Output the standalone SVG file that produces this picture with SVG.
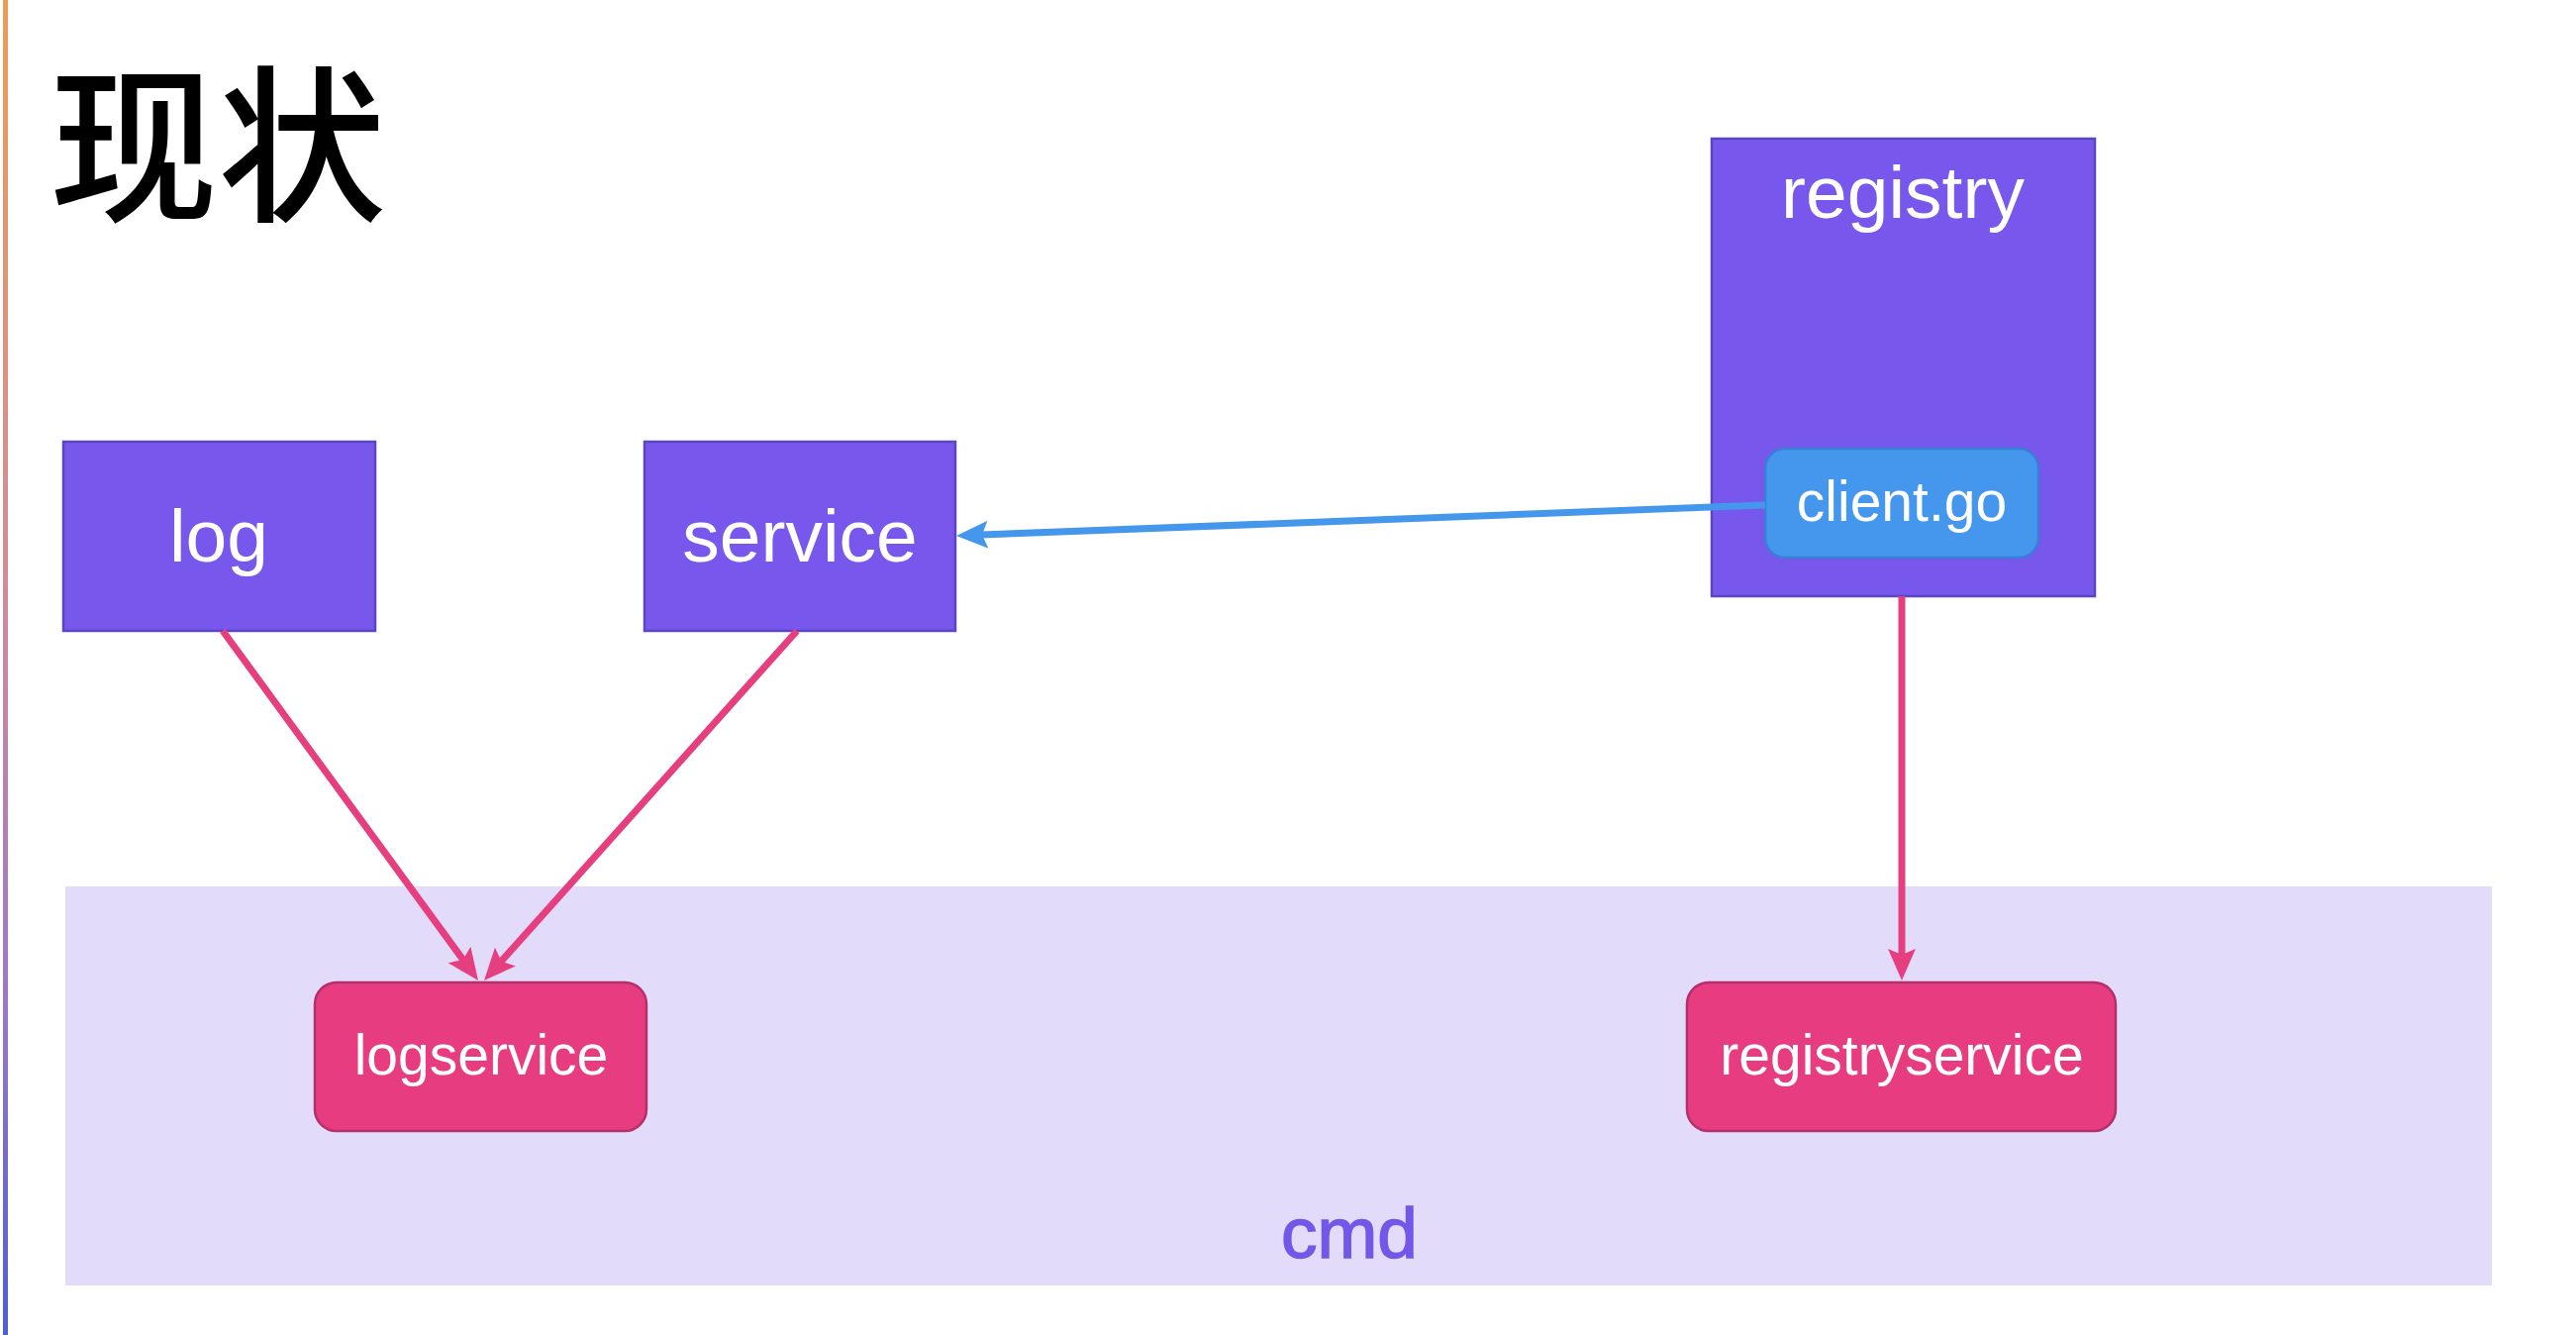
<svg xmlns="http://www.w3.org/2000/svg" width="2602" height="1348" viewBox="0 0 2602 1348">
  <style>
    .lbl { font-family: "Liberation Sans", Arial, sans-serif; fill: #ffffff; text-anchor: middle; }
    .box { fill: #7857ED; stroke: #5B45C2; stroke-width: 2.5; }
    .pink { fill: #E83C80; stroke: #B5306A; stroke-width: 2.5; }
    .blue { fill: #4597EE; stroke: #3A7FD6; stroke-width: 2.5; }
    .edge-p { stroke: #E53F7F; stroke-width: 7; fill: none; marker-end: url(#ah-p); }
    .edge-b { stroke: #4597EC; stroke-width: 7; fill: none; marker-end: url(#ah-b); }
  </style>
  <defs>
    <linearGradient id="bar" x1="0" y1="0" x2="0" y2="1">
      <stop offset="0" stop-color="#EB9D55"/>
      <stop offset="0.45" stop-color="#D28A9A"/>
      <stop offset="0.75" stop-color="#9A78C8"/>
      <stop offset="1" stop-color="#4C5ED8"/>
    </linearGradient>
    <marker id="ah-p" markerUnits="userSpaceOnUse" markerWidth="32" markerHeight="28" refX="22" refY="14" orient="auto">
      <path d="M0,0 L32,14 L0,28 L6,14 z" fill="#E53F7F"/>
    </marker>
    <marker id="ah-b" markerUnits="userSpaceOnUse" markerWidth="32" markerHeight="28" refX="22" refY="14" orient="auto">
      <path d="M0,0 L32,14 L0,28 L6,14 z" fill="#4597EC"/>
    </marker>
  </defs>

  <rect x="0" y="0" width="2602" height="1348" fill="#ffffff"/>
  <rect x="3" y="0" width="5" height="1348" fill="url(#bar)"/>

  <text x="50" y="211" font-family="'Noto Sans CJK SC', sans-serif" font-size="170" font-weight="500" fill="#000000">现状</text>

  <g id="cmd">
    <rect x="66" y="895" width="2451" height="403" fill="#E2DBF9"/>
    <text x="1363" y="1270" font-family="'Liberation Sans', Arial, sans-serif" font-size="73" fill="#7357E8" stroke="#7357E8" stroke-width="1.5" text-anchor="middle">cmd</text>
  </g>

  <g id="log">
    <rect class="box" x="64" y="446" width="315" height="191"/>
    <text class="lbl" x="221" y="567" font-size="75">log</text>
  </g>

  <g id="service">
    <rect class="box" x="651" y="446" width="314" height="191"/>
    <text class="lbl" x="808" y="567" font-size="75">service</text>
  </g>

  <g id="registry">
    <rect class="box" x="1729" y="140" width="387" height="462"/>
    <text class="lbl" x="1922" y="220" font-size="75">registry</text>
  </g>

  <g id="client-go">
    <rect class="blue" x="1783" y="453" width="276" height="110" rx="20" ry="20"/>
    <text class="lbl" x="1921" y="526" font-size="57">client.go</text>
  </g>

  <g id="logservice">
    <rect class="pink" x="318" y="992" width="335" height="150" rx="22" ry="22"/>
    <text class="lbl" x="486" y="1085" font-size="57">logservice</text>
  </g>

  <g id="registryservice">
    <rect class="pink" x="1704" y="992" width="433" height="150" rx="22" ry="22"/>
    <text class="lbl" x="1921" y="1085" font-size="57">registryservice</text>
  </g>

  <g id="connectors">
    <line class="edge-p" x1="225" y1="637" x2="477.1" y2="981.9"/>
    <line class="edge-p" x1="805" y1="637" x2="495.7" y2="982.5"/>
    <line class="edge-p" x1="1921" y1="602" x2="1921" y2="980"/>
    <line class="edge-b" x1="1783" y1="510" x2="976" y2="540.6"/>
  </g>
</svg>
